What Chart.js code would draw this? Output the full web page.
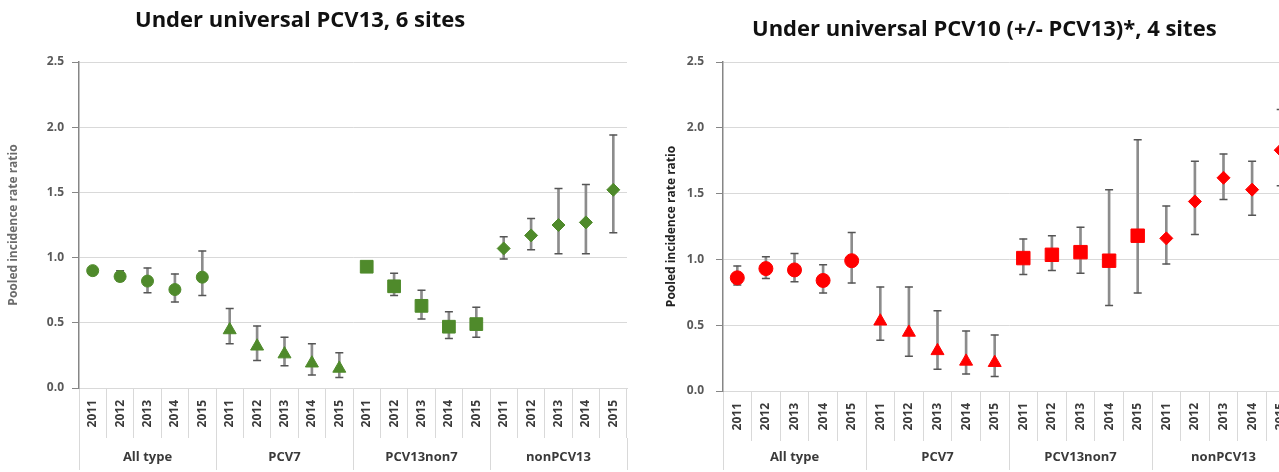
<!DOCTYPE html>
<html>
<head>
<meta charset="utf-8">
<script src="https://cdn.jsdelivr.net/npm/chart.js@4/dist/chart.umd.min.js"></script>
<style>
  html, body { margin: 0; padding: 0; background: #fff; width: 1279px; height: 472px; overflow: hidden; }
  .box { position: absolute; top: 0; height: 472px; }
  .ttl { position: absolute; font-family: "Open Sans", sans-serif; font-weight: 700; font-size: 22px; line-height: 26px; color: #111; white-space: nowrap; }
</style>
</head>
<body>
<div class="box" style="left:0;width:640px"><canvas id="leftChart" width="640" height="472"></canvas></div>
<div class="box" style="left:640px;width:680px"><canvas id="rightChart" width="680" height="472"></canvas></div>
<div class="ttl" style="left:135px;top:5px">Under universal PCV13, 6 sites</div>
<div class="ttl" style="left:752px;top:14px">Under universal PCV10 (+/- PCV13)*, 4 sites</div>

<script>
// categories
const groups = ["All type", "PCV7", "PCV13non7", "nonPCV13"];
const years = ["2011", "2012", "2013", "2014", "2015"];
const yTicks = [0, 0.5, 1.0, 1.5, 2.0, 2.5];

// universal PCV13, 6 sites : pooled IRR and 95% CI
const pcv13Irr  = [0.90, 0.855, 0.82, 0.755, 0.85,  0.445, 0.32, 0.26, 0.19, 0.15,  0.93, 0.78, 0.63, 0.47, 0.49,  1.07, 1.17, 1.25, 1.27, 1.52];
const pcv13Low  = [0.87, 0.82, 0.73, 0.66, 0.71,  0.34, 0.21, 0.17, 0.10, 0.08,  0.90, 0.71, 0.53, 0.38, 0.39,  0.99, 1.06, 1.03, 1.03, 1.19];
const pcv13High = [0.92, 0.90, 0.92, 0.875, 1.05,  0.61, 0.475, 0.39, 0.34, 0.27,  0.96, 0.88, 0.75, 0.585, 0.62,  1.16, 1.30, 1.53, 1.56, 1.94];

// universal PCV10 (+/- PCV13), 4 sites
const pcv10Irr  = [0.86, 0.93, 0.92, 0.84, 0.99,  0.53, 0.445, 0.305, 0.225, 0.215,  1.01, 1.035, 1.055, 0.99, 1.18,  1.16, 1.44, 1.62, 1.53, 1.83];
const pcv10Low  = [0.805, 0.855, 0.83, 0.745, 0.82,  0.385, 0.265, 0.165, 0.13, 0.11,  0.885, 0.915, 0.895, 0.65, 0.745,  0.965, 1.19, 1.455, 1.335, 1.56];
const pcv10High = [0.95, 1.02, 1.045, 0.96, 1.205,  0.79, 0.79, 0.61, 0.455, 0.425,  1.155, 1.18, 1.245, 1.53, 1.91,  1.405, 1.745, 1.80, 1.745, 2.14];

const yearLabels = groups.flatMap(() => years);
const markerStyles = ["circle", "triangle", "rect", "rectRot"];
const FONT = "'Open Sans', sans-serif";

function makeChart(id, irr, low, high, cfg) {
  const styles = groups.flatMap((g, gi) => years.map(() => markerStyles[gi]));
  const radii = groups.flatMap((g, gi) => years.map(() => cfg.radii[gi]));

  return new Chart(document.getElementById(id), {
    type: "bar",
    data: {
      labels: yearLabels,
      datasets: [
        // CI whiskers
        { type: "bar", data: low.map((v, i) => [v, high[i]]), backgroundColor: "#8c8c8c",
          barThickness: 2, order: 4 },
        // caps
        { type: "line", data: low, showLine: false, pointStyle: "line", pointRadius: 4,
          borderColor: "#555", borderWidth: 1.5, order: 3 },
        { type: "line", data: high, showLine: false, pointStyle: "line", pointRadius: 4,
          borderColor: "#555", borderWidth: 1.5, order: 2 },
        // point estimates
        { type: "line", data: irr, showLine: false, pointStyle: styles, pointRadius: radii,
          backgroundColor: cfg.color, borderColor: cfg.color, borderWidth: 1, order: 1 }
      ]
    },
    options: {
      responsive: false,
      animation: false,
      layout: { padding: { left: 2, right: cfg.padRight, top: 62, bottom: 2 } },
      plugins: { legend: { display: false }, tooltip: { enabled: false } },
      scales: {
        x: {
          type: "category", offset: true, weight: 0,
          grid: { offset: true, drawOnChartArea: false, tickLength: 50, color: "#d9d9d9" },
          border: { color: "#d9d9d9" },
          ticks: { autoSkip: false, minRotation: 90, maxRotation: 90, padding: -38,
                   color: "#3a3a3a", font: { family: FONT, weight: "bold", size: 12 } },
          afterFit: s => { s.height = 50; }
        },
        x2: {
          type: "category", labels: groups, position: "bottom", offset: true, weight: 1,
          grid: { offset: true, drawOnChartArea: false, tickLength: cfg.groupRow, color: "#d9d9d9" },
          border: { display: false },
          ticks: { padding: -21, color: "#3a3a3a", font: { family: FONT, weight: "bold", size: 13 } },
          afterFit: s => { s.height = cfg.groupRow; }
        },
        y: {
          min: 0, max: 2.5,
          afterBuildTicks: s => { s.ticks = yTicks.map(v => ({ value: v })); },
          grid: { color: "#d9d9d9", tickColor: "#868686", tickLength: 7 },
          border: { color: "#868686", width: 1.5 },
          ticks: { padding: cfg.tickPad, color: "#595959", callback: v => v.toFixed(1),
                   font: { family: FONT, weight: "bold", size: 12 } },
          title: { display: true, text: "Pooled incidence rate ratio", color: cfg.titleColor,
                   padding: { top: cfg.titlePad, bottom: 0 },
                   font: { family: FONT, weight: "bold", size: 12 } },
          afterFit: s => { s.width = cfg.yWidth; }
        }
      }
    }
  });
}

makeChart("leftChart", pcv13Irr, pcv13Low, pcv13High, {
  color: "#4f8a2b", radii: [6, 7.5, 9, 6.5], padRight: 13, yWidth: 77,
  groupRow: 32, tickPad: 8, titlePad: 4, titleColor: "#6b6b6b"
});

makeChart("rightChart", pcv10Irr, pcv10Low, pcv10High, {
  color: "#ff0000", radii: [7, 7.5, 9.5, 6.5], padRight: 25, yWidth: 81,
  groupRow: 29, tickPad: 12, titlePad: 22, titleColor: "#222"
});
</script>
</body>
</html>
